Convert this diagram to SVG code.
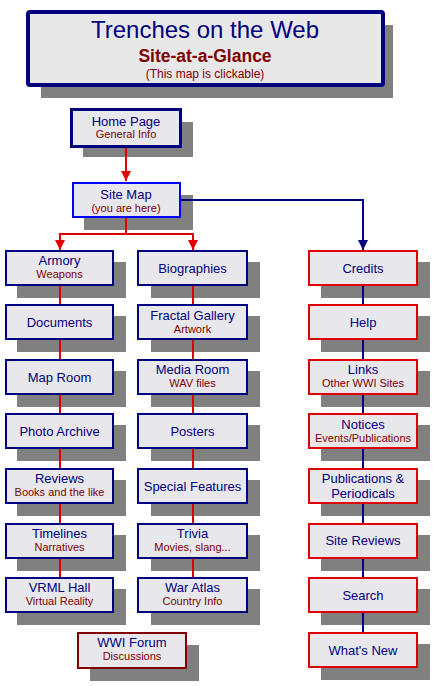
<svg xmlns="http://www.w3.org/2000/svg" width="435" height="686" viewBox="0 0 435 686">
<style>
.bg{fill:#ffffff}
.sh{fill:#808080}
.box{fill:#e8e8ec;stroke-width:2}
.nv{stroke:#000080}
.rd{stroke:#e00000}
.dr{stroke:#800000}
.bl{stroke:#0000ff}
.t{font-family:"Liberation Sans",Arial,sans-serif;font-size:13px;fill:#000080;text-anchor:middle}
.s{font-family:"Liberation Sans",Arial,sans-serif;font-size:11px;fill:#800000;text-anchor:middle}
.lr{stroke:#e00000;stroke-width:2;fill:none}
.ln{stroke:#000080;stroke-width:2;fill:none}
</style>
<defs>
<marker id="ar" viewBox="0 0 10 10" refX="10" refY="5" markerWidth="5" markerHeight="5" orient="auto" markerUnits="strokeWidth"><path d="M0,0 L10,5 L0,10 z" fill="#e00000"/></marker>
<marker id="an" viewBox="0 0 10 10" refX="10" refY="5" markerWidth="5" markerHeight="5" orient="auto" markerUnits="strokeWidth"><path d="M0,0 L10,5 L0,10 z" fill="#000080"/></marker>
</defs>
<rect class="bg" x="0" y="0" width="435" height="686"/>

<g id="title">
<rect class="sh" x="41" y="25" width="352" height="73"/>
<rect x="28" y="12" width="355" height="73" rx="2" fill="#e8e8e8" stroke="#000080" stroke-width="4"/>
<text x="205" y="38" font-family="'Liberation Sans',Arial,sans-serif" font-size="24" fill="#000080" text-anchor="middle">Trenches on the Web</text>
<text x="205" y="62" font-family="'Liberation Sans',Arial,sans-serif" font-size="17.5" font-weight="bold" fill="#800000" text-anchor="middle">Site-at-a-Glance</text>
<text x="205" y="78" font-family="'Liberation Sans',Arial,sans-serif" font-size="12" fill="#800000" text-anchor="middle">(This map is clickable)</text>
</g>

<g id="home">
<rect class="sh" x="83" y="122" width="110" height="35"/>
<rect x="71.5" y="109.5" width="109" height="37" fill="#e8e8ec" stroke="#000080" stroke-width="3"/>
<text class="t" x="126" y="126">Home Page</text>
<text class="s" x="126" y="138">General Info</text>
</g>

<g id="sitemap">
<rect class="sh" x="84" y="195" width="109" height="35"/>
<rect class="box bl" x="73" y="183" width="107" height="34"/>
<text class="t" x="126" y="199">Site Map</text>
<text class="s" x="126" y="212">(you are here)</text>
</g>

<!-- column 1 -->
<g id="armory"><rect class="sh" x="17" y="262" width="109" height="36"/><rect class="box nv" x="6" y="251" width="107" height="34"/><text class="t" x="59.5" y="265">Armory</text><text class="s" x="59.5" y="278">Weapons</text></g>
<g id="documents"><rect class="sh" x="17" y="316" width="109" height="36"/><rect class="box nv" x="6" y="305" width="107" height="34"/><text class="t" x="59.5" y="327">Documents</text></g>
<g id="maproom"><rect class="sh" x="17" y="371" width="109" height="36"/><rect class="box nv" x="6" y="360" width="107" height="34"/><text class="t" x="59.5" y="382">Map Room</text></g>
<g id="photoarchive"><rect class="sh" x="17" y="425" width="109" height="36"/><rect class="box nv" x="6" y="414" width="107" height="34"/><text class="t" x="59.5" y="436">Photo Archive</text></g>
<g id="reviews"><rect class="sh" x="17" y="480" width="109" height="36"/><rect class="box nv" x="6" y="469" width="107" height="34"/><text class="t" x="59.5" y="483">Reviews</text><text class="s" x="59.5" y="496">Books and the like</text></g>
<g id="timelines"><rect class="sh" x="17" y="535" width="109" height="36"/><rect class="box nv" x="6" y="524" width="107" height="34"/><text class="t" x="59.5" y="538">Timelines</text><text class="s" x="59.5" y="551">Narratives</text></g>
<g id="vrml"><rect class="sh" x="17" y="589" width="109" height="36"/><rect class="box nv" x="6" y="578" width="107" height="34"/><text class="t" x="59.5" y="592">VRML Hall</text><text class="s" x="59.5" y="605">Virtual Reality</text></g>

<!-- column 2 -->
<g id="biographies"><rect class="sh" x="151" y="262" width="109" height="36"/><rect class="box nv" x="138" y="251" width="109" height="34"/><text class="t" x="192.5" y="273">Biographies</text></g>
<g id="fractal"><rect class="sh" x="151" y="316" width="109" height="36"/><rect class="box nv" x="138" y="305" width="109" height="34"/><text class="t" x="192.5" y="320">Fractal Gallery</text><text class="s" x="192.5" y="333">Artwork</text></g>
<g id="mediaroom"><rect class="sh" x="151" y="371" width="109" height="36"/><rect class="box nv" x="138" y="360" width="109" height="34"/><text class="t" x="192.5" y="374">Media Room</text><text class="s" x="192.5" y="387">WAV files</text></g>
<g id="posters"><rect class="sh" x="151" y="425" width="109" height="36"/><rect class="box nv" x="138" y="414" width="109" height="34"/><text class="t" x="192.5" y="436">Posters</text></g>
<g id="special"><rect class="sh" x="151" y="480" width="109" height="36"/><rect class="box nv" x="138" y="469" width="109" height="34"/><text class="t" x="192.5" y="491">Special Features</text></g>
<g id="trivia"><rect class="sh" x="151" y="535" width="109" height="36"/><rect class="box nv" x="138" y="524" width="109" height="34"/><text class="t" x="192.5" y="538">Trivia</text><text class="s" x="192.5" y="551">Movies, slang...</text></g>
<g id="waratlas"><rect class="sh" x="151" y="589" width="109" height="36"/><rect class="box nv" x="138" y="578" width="109" height="34"/><text class="t" x="192.5" y="592">War Atlas</text><text class="s" x="192.5" y="605">Country Info</text></g>

<g id="forum"><rect class="sh" x="90" y="645" width="109" height="36"/><rect class="box dr" x="78" y="633" width="108" height="35"/><text class="t" x="132" y="647">WWI Forum</text><text class="s" x="132" y="660">Discussions</text></g>

<!-- column 3 -->
<g id="credits"><rect class="sh" x="321" y="262" width="109" height="36"/><rect class="box rd" x="309" y="251" width="108" height="34"/><text class="t" x="363" y="273">Credits</text></g>
<g id="help"><rect class="sh" x="321" y="316" width="109" height="36"/><rect class="box rd" x="309" y="305" width="108" height="34"/><text class="t" x="363" y="327">Help</text></g>
<g id="links"><rect class="sh" x="321" y="371" width="109" height="36"/><rect class="box rd" x="309" y="360" width="108" height="34"/><text class="t" x="363" y="374">Links</text><text class="s" x="363" y="387">Other WWI Sites</text></g>
<g id="notices"><rect class="sh" x="321" y="425" width="109" height="36"/><rect class="box rd" x="309" y="414" width="108" height="34"/><text class="t" x="363" y="429">Notices</text><text class="s" x="363" y="442">Events/Publications</text></g>
<g id="publications"><rect class="sh" x="321" y="480" width="109" height="36"/><rect class="box rd" x="309" y="469" width="108" height="34"/><text class="t" x="363" y="483">Publications &amp;</text><text class="t" x="363" y="498">Periodicals</text></g>
<g id="sitereviews"><rect class="sh" x="321" y="535" width="109" height="36"/><rect class="box rd" x="309" y="524" width="108" height="34"/><text class="t" x="363" y="545">Site Reviews</text></g>
<g id="search"><rect class="sh" x="321" y="589" width="109" height="36"/><rect class="box rd" x="309" y="578" width="108" height="34"/><text class="t" x="363" y="600">Search</text></g>
<g id="whatsnew"><rect class="sh" x="321" y="644" width="109" height="36"/><rect class="box rd" x="309" y="633" width="108" height="34"/><text class="t" x="363" y="655">What's New</text></g>

<g id="connectors">
<path class="lr" d="M126,148 V181" marker-end="url(#ar)"/>
<path class="lr" d="M126,218 V234 H60 V250" marker-end="url(#ar)"/>
<path class="lr" d="M126,234 H193 V250" marker-end="url(#ar)"/>
<path class="ln" d="M181,200 H363 V250" marker-end="url(#an)"/>
<path class="lr" d="M60,286 V304 M60,340 V359 M60,395 V413 M60,449 V468 M60,504 V523 M60,559 V577"/>
<path class="lr" d="M193,286 V304 M193,340 V359 M193,395 V413 M193,449 V468 M193,504 V523 M193,559 V577"/>
<path class="ln" d="M363,286 V304 M363,340 V359 M363,395 V413 M363,449 V468 M363,504 V523 M363,559 V577 M363,613 V632"/>
</g>
</svg>
